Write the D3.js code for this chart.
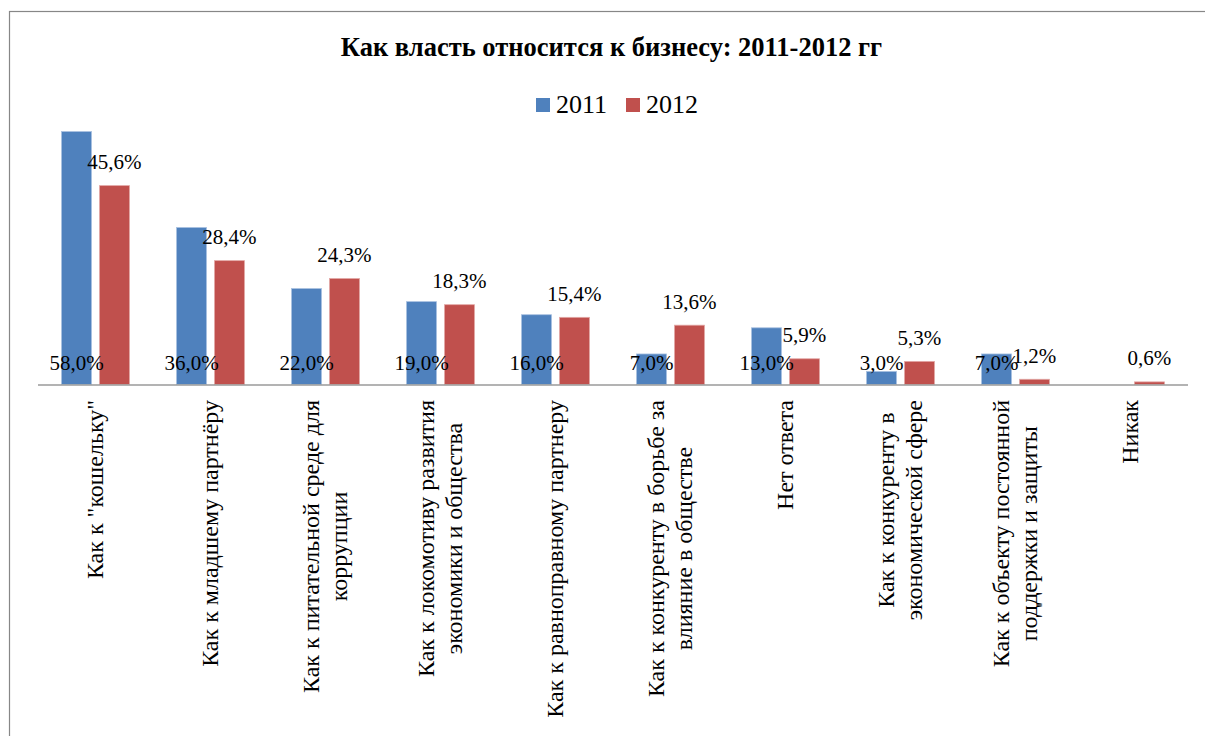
<!DOCTYPE html>
<html>
<head>
<meta charset="utf-8">
<script src="https://cdn.jsdelivr.net/npm/d3@7"></script>
<style>
  body { margin: 0; background: #fff; }
  svg { display: block; }
</style>
</head>
<body>
<div id="chart"></div>
<script>
// chart data
const categories = [
  'Как к "кошельку"',
  'Как к младшему партнёру',
  'Как к питательной среде для|коррупции',
  'Как к локомотиву развития|экономики и общества',
  'Как к равноправному партнеру',
  'Как к конкуренту в борьбе за|влияние в обществе',
  'Нет ответа',
  'Как к конкуренту в|экономической сфере',
  'Как к объекту постоянной|поддержки и защиты',
  'Никак'
];
const values2011 = [0.58, 0.36, 0.22, 0.19, 0.16, 0.07, 0.13, 0.03, 0.07, null];
const values2012 = [0.456, 0.284, 0.243, 0.183, 0.154, 0.136, 0.059, 0.053, 0.012, 0.006];
const seriesNames = ['2011', '2012'];
const colors = { '2011': '#4f81bd', '2012': '#c0504d' };

const FONT = 'Liberation Serif';
const W = 1205, H = 736;
const plot = { left: 38, right: 1188, top: 79.2, bottom: 384.5 };

const data = categories.map((c, i) => ({
  cat: c, '2011': values2011[i], '2012': values2012[i]
}));

const fmt = v => (v * 100).toFixed(1).replace('.', ',') + '%';

const svg = d3.select('#chart').append('svg')
    .attr('width', W)
    .attr('height', H);

// outer frame
svg.append('rect')
    .attr('x', 9.5).attr('y', 11.5)
    .attr('width', 1210).attr('height', 740)
    .attr('fill', 'none')
    .attr('stroke', '#878787')
    .attr('stroke-width', 1.2);

const x0 = d3.scaleBand()
  .domain(categories)
  .range([plot.left, plot.right])
  .padding(0);

const x1 = d3.scaleBand()
  .domain(seriesNames)
  .range([23.5, 91.5])
  .paddingInner(0.21)
  .paddingOuter(0);

const y = d3.scaleLinear()
  .domain([0, 0.7])
  .range([plot.bottom, plot.top]);

// title
svg.append('text')
    .attr('x', 611.5).attr('y', 56)
    .attr('text-anchor', 'middle')
    .attr('font-family', FONT)
    .attr('font-weight', 'bold')
    .attr('font-size', 26.5)
    .text('Как власть относится к бизнесу: 2011-2012 гг');

// legend
const legend = svg.append('g').selectAll('g')
  .data(seriesNames)
  .join('g')
    .attr('transform', (d, i) => `translate(${536 + i * 90},0)`);
legend.append('rect')
    .attr('x', 0).attr('y', 98)
    .attr('width', 14).attr('height', 14)
    .attr('fill', d => colors[d]);
legend.append('text')
    .attr('x', 20).attr('y', 113)
    .attr('font-family', FONT)
    .attr('font-size', 26)
    .text(d => d);

// bars
const groups = svg.append('g')
  .selectAll('g')
  .data(data)
  .join('g')
    .attr('transform', d => `translate(${x0(d.cat)},0)`);

groups.selectAll('rect')
  .data(d => seriesNames.map(k => ({ key: k, value: d[k] })).filter(d => d.value != null))
  .join('rect')
    .attr('x', d => x1(d.key))
    .attr('y', d => y(d.value))
    .attr('width', x1.bandwidth())
    .attr('height', d => y(0) - y(d.value))
    .attr('fill', d => colors[d.key])
    .attr('stroke', d => d.key === '2011' ? '#a9c1e0' : '#e3a8a6')
    .attr('stroke-width', 0.8);

// axis line
svg.append('line')
    .attr('x1', plot.left).attr('x2', plot.right)
    .attr('y1', plot.bottom + 0.5).attr('y2', plot.bottom + 0.5)
    .attr('stroke', '#9a9a9a')
    .attr('stroke-width', 1.5);

// data labels: 2011 at the base, 2012 above the bar
groups.selectAll('text.lbl')
  .data(d => seriesNames.map(k => ({ key: k, value: d[k] })).filter(d => d.value != null))
  .join('text')
    .attr('class', 'lbl')
    .attr('x', d => x1(d.key) + x1.bandwidth() / 2)
    .attr('y', d => d.key === '2011' ? y(0) - 15 : y(d.value) - 16.5)
    .attr('text-anchor', 'middle')
    .attr('font-family', FONT)
    .attr('font-size', 21)
    .attr('fill', '#000')
    .text(d => fmt(d.value));

// category labels (rotated, multi-line, centred lines)
const lh = 28;
categories.forEach(c => {
  const lines = c.split('|');
  const cx = x0(c) + x0.bandwidth() / 2;
  const t = svg.append('text')
      .attr('transform', `translate(${cx},400) rotate(-90)`)
      .attr('font-family', FONT)
      .attr('font-size', 24)
      .attr('text-anchor', 'middle');
  const spans = lines.map((s, i) => t.append('tspan')
      .attr('y', (i - (lines.length - 1) / 2) * lh)
      .attr('dy', '0.32em')
      .text(s));
  const maxLen = d3.max(spans, s => s.node().getComputedTextLength());
  spans.forEach(s => s.attr('x', -maxLen / 2));
});
</script>
</body>
</html>
